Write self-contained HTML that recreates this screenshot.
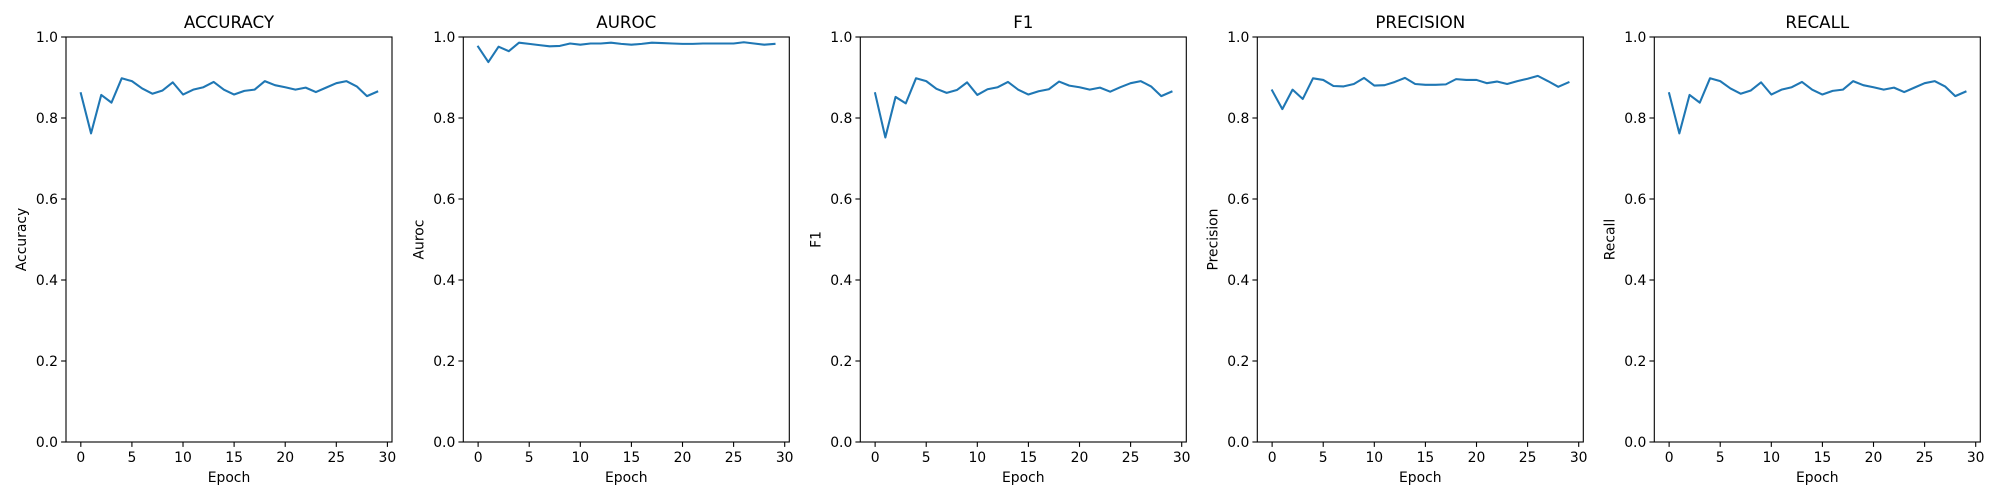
<!DOCTYPE html>
<html><head><meta charset="utf-8"><style>
body{margin:0;background:#fff}
svg{display:block;font-family:"DejaVu Sans","Liberation Sans",sans-serif}
</style></head><body>
<svg id="fig" width="2000" height="500" viewBox="0 0 2000 500" xmlns="http://www.w3.org/2000/svg"></svg>
<script>
const epochs = Array.from({length:30},(_,i)=>i);
const titles = ["ACCURACY","AUROC","F1","PRECISION","RECALL"];
const ylabels = ["Accuracy","Auroc","F1","Precision","Recall"];
const accuracy = [0.861,0.762,0.857,0.838,0.898,0.891,0.873,0.860,0.868,0.888,0.858,0.870,0.876,0.889,0.870,0.858,0.867,0.870,0.891,0.881,0.876,0.870,0.875,0.864,0.875,0.886,0.891,0.878,0.854,0.865];
const auroc = [0.976,0.938,0.976,0.965,0.986,0.983,0.980,0.977,0.978,0.984,0.981,0.984,0.984,0.986,0.983,0.981,0.983,0.986,0.985,0.984,0.983,0.983,0.984,0.984,0.984,0.984,0.987,0.984,0.981,0.983];
const f1 = [0.861,0.752,0.852,0.836,0.898,0.891,0.872,0.862,0.869,0.888,0.857,0.871,0.876,0.889,0.870,0.858,0.866,0.871,0.890,0.880,0.876,0.870,0.875,0.865,0.876,0.886,0.891,0.878,0.854,0.865];
const precision = [0.868,0.822,0.870,0.847,0.898,0.894,0.879,0.878,0.884,0.899,0.880,0.881,0.889,0.899,0.884,0.882,0.882,0.883,0.896,0.894,0.894,0.886,0.890,0.884,0.891,0.897,0.904,0.891,0.877,0.888];
const recall = [0.861,0.762,0.857,0.838,0.898,0.891,0.873,0.860,0.868,0.888,0.858,0.870,0.876,0.889,0.870,0.858,0.867,0.870,0.891,0.881,0.876,0.870,0.875,0.864,0.875,0.886,0.891,0.878,0.854,0.865];
const xTicks = [0,5,10,15,20,25,30];
const yTicks = [0,0.2,0.4,0.6,0.8,1.0];
const series = [accuracy,auroc,f1,precision,recall];

const NS="http://www.w3.org/2000/svg";
const svg=document.getElementById('fig');
function mk(tag,attrs,parent){const e=document.createElementNS(NS,tag);for(const k in attrs)e.setAttribute(k,attrs[k]);parent.appendChild(e);return e;}
const lefts=[66,463.3,860.3,1257.3,1654.3];
const W=326, axTop=37, axBottom=442;
const xmin=-1.45, xmax=30.45;
for(let p=0;p<5;p++){
  const L=lefts[p];
  const xs=v=>L+(v-xmin)/(xmax-xmin)*W;
  const ys=v=>axBottom-v*(axBottom-axTop);
  const g=mk('g',{},svg);
  
  
  const d=series[p].map((v,i)=>(i?'L':'M')+xs(epochs[i]).toFixed(2)+','+ys(v).toFixed(2)).join(' ');
  const line=mk('path',{d:d,fill:'none',stroke:'#1f77b4','stroke-width':2.08,'stroke-linejoin':'round','stroke-linecap':'square'},g);
  
  
  const fr=mk('rect',{x:L,y:axTop,width:W,height:axBottom-axTop,fill:'none',stroke:'#000','stroke-width':1.1},g);
  
  
  xTicks.forEach(t=>{
    const x=xs(t);
    mk('line',{x1:x,x2:x,y1:axBottom,y2:axBottom+4.9,stroke:'#000','stroke-width':1.1},g);
    const tx=mk('text',{x:x,y:axBottom+20,'font-size':13.9,'text-anchor':'middle',fill:'#000'},g);
    tx.textContent=t;
    
    
  });
  yTicks.forEach(t=>{
    const y=ys(t);
    mk('line',{x1:L-4.9,x2:L,y1:y,y2:y,stroke:'#000','stroke-width':1.1},g);
    const tx=mk('text',{x:L-8,y:y+5,'font-size':13.9,'text-anchor':'end',fill:'#000'},g);
    tx.textContent=t.toFixed(1);
    
    
  });
  const tt=mk('text',{x:L+W/2,y:28,'font-size':16.7,'text-anchor':'middle',fill:'#000'},g);
  tt.textContent=titles[p];
  
  
  const xl=mk('text',{x:L+W/2,y:482,'font-size':13.9,'text-anchor':'middle',fill:'#000'},g);
  xl.textContent='Epoch';
  
  
  const yx=L-40, yy=(axTop+axBottom)/2;
  const yl=mk('text',{x:yx,y:yy,'font-size':13.9,'text-anchor':'middle',fill:'#000',transform:`rotate(-90 ${yx} ${yy})`},g);
  yl.textContent=ylabels[p];
  
  
}
</script>
</body></html>
